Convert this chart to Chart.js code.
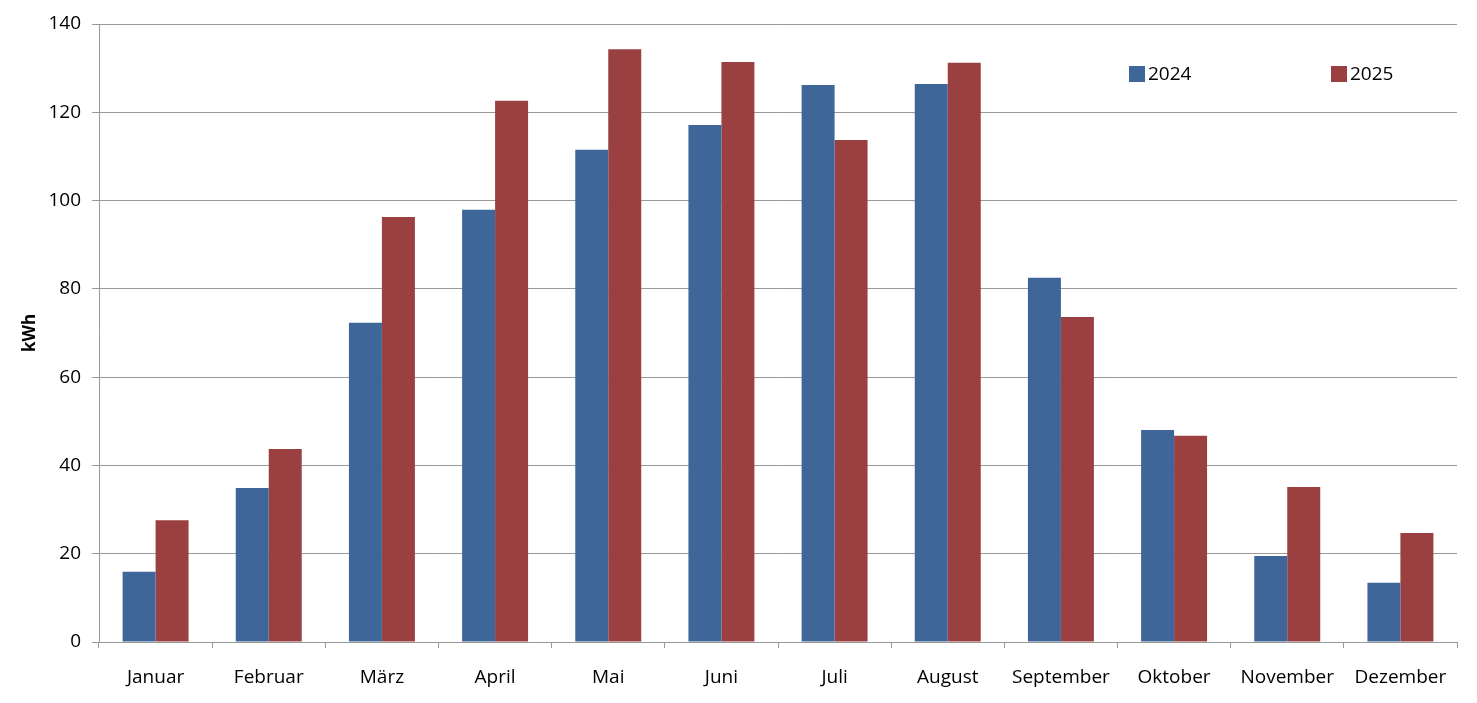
<!DOCTYPE html>
<html>
<head>
<meta charset="utf-8">
<script src="https://cdn.jsdelivr.net/npm/chart.js@4"></script>
<style>
  body { margin: 0; background: #fff; }
  #wrap { position: relative; width: 1477px; height: 703px; }
  .leg { position: absolute; top: 60px; font: 19px "Open Sans", sans-serif; color: #000; }
  .leg span.box { display: inline-block; width: 16px; height: 16px; vertical-align: -2px; margin-right: 3px; }
</style>
</head>
<body>
<div id="wrap">
  <canvas id="chart"></canvas>
  <div class="leg" style="left:1129px"><span class="box" style="background:#3F6698"></span>2024</div>
  <div class="leg" style="left:1331px"><span class="box" style="background:#9B4040"></span>2025</div>
</div>
<script>
const months = ['Januar', 'Februar', 'März', 'April', 'Mai', 'Juni', 'Juli', 'August', 'September', 'Oktober', 'November', 'Dezember'];
const values2024 = [15.9, 34.9, 72.3, 97.9, 111.5, 117.1, 126.2, 126.4, 82.5, 48.0, 19.5, 13.4];
const values2025 = [27.6, 43.7, 96.3, 122.6, 134.3, 131.4, 113.7, 131.2, 73.6, 46.7, 35.1, 24.7];

const gridGray = '#999999';

new Chart(document.getElementById('chart'), {
    type: 'bar',
    data: {
        labels: months,
        datasets: [
            { label: '2024', data: values2024, backgroundColor: '#3F6698' },
            { label: '2025', data: values2025, backgroundColor: '#9B4040' }
        ]
    },
    options: {
        responsive: true,
        maintainAspectRatio: false,
        animation: false,
        layout: { padding: { top: 24, right: 20, bottom: 0, left: 0 } },
        datasets: { bar: { categoryPercentage: 0.583, barPercentage: 1.0 } },
        plugins: { legend: { display: false }, tooltip: { enabled: false } },
        scales: {
            x: {
                afterFit: (s) => { s.height = 61; },
                grid: { offset: true, drawOnChartArea: false, color: gridGray, tickLength: 6 },
                border: { color: gridGray },
                ticks: { color: '#000', padding: 18, font: { family: 'Open Sans', size: 19 } }
            },
            y: {
                min: 0,
                max: 140,
                afterFit: (s) => { s.width = 99; },
                grid: { color: gridGray, tickLength: 7 },
                border: { color: gridGray },
                ticks: { stepSize: 20, color: '#000', padding: 11, font: { family: 'Open Sans', size: 19 } },
                title: {
                    display: true,
                    text: 'kWh',
                    color: '#000',
                    padding: { top: 20, bottom: 0 },
                    font: { family: 'Open Sans', size: 17, weight: 'bold' }
                }
            }
        }
    }
});
</script>
</body>
</html>
